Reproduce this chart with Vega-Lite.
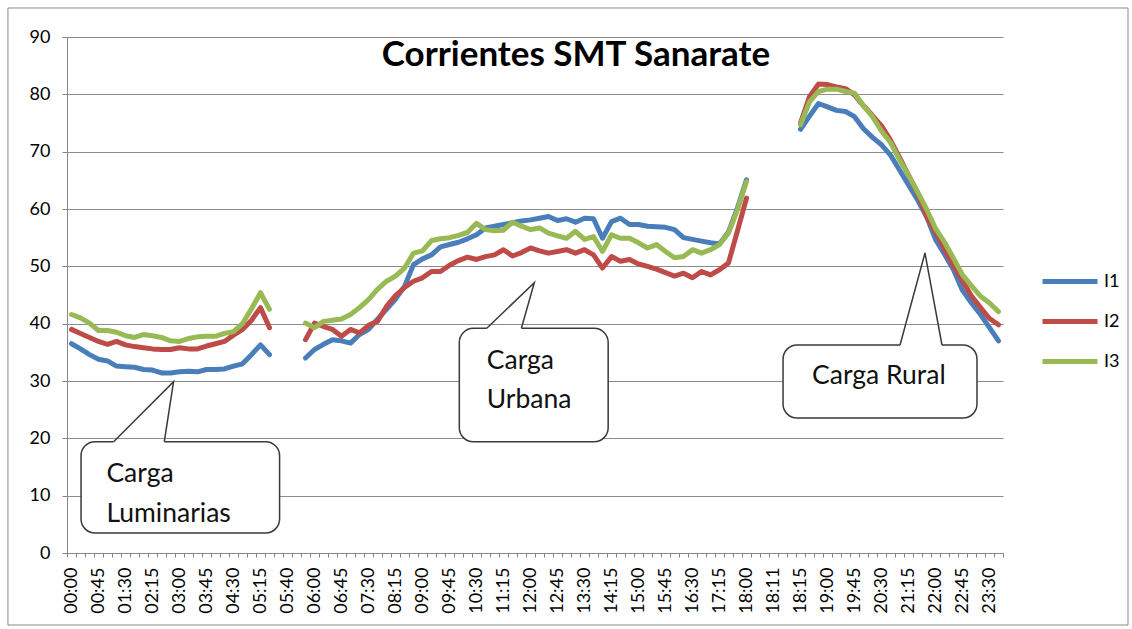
{
  "$schema": "https://vega.github.io/schema/vega-lite/v6.json",
  "width": 936,
  "height": 516,
  "autosize": {"type": "none"},
  "padding": {"left": 67, "top": 37, "right": 129, "bottom": 76},
  "background": "white",
  "title": {"text": "Corrientes SMT Sanarate", "font": "Lato", "fontSize": 35, "fontWeight": "bold", "color": "#000000", "anchor": "middle", "dx": 41, "offset": -66},
  "config": {
    "view": {"stroke": null},
    "axisY": {"domainColor": "#868686", "tickColor": "#868686", "tickSize": 5, "labelFont": "Lato", "labelFontSize": 18, "labelColor": "#000000", "gridColor": "#8c8c8c", "labelPadding": 12, "title": null},
    "axisX": {"domainColor": "#868686", "tickColor": "#868686", "tickSize": 4, "labelFont": "Lato", "labelFontSize": 18, "labelColor": "#000000", "grid": false, "labelPadding": 10, "title": null}
  },
  "datasets": {
    "series": [
      {"t":"00:00","s":"I1","v":36.5},{"t":"00:15","s":"I1","v":35.6},{"t":"00:30","s":"I1","v":34.6},{"t":"00:45","s":"I1","v":33.8},{"t":"01:00","s":"I1","v":33.5},{"t":"01:15","s":"I1","v":32.6},{"t":"01:30","s":"I1","v":32.5},{"t":"01:45","s":"I1","v":32.4},{"t":"02:00","s":"I1","v":32.0},{"t":"02:15","s":"I1","v":31.9},{"t":"02:30","s":"I1","v":31.4},{"t":"02:45","s":"I1","v":31.4},{"t":"03:00","s":"I1","v":31.6},{"t":"03:15","s":"I1","v":31.7},{"t":"03:30","s":"I1","v":31.6},{"t":"03:45","s":"I1","v":32.0},{"t":"04:00","s":"I1","v":32.0},{"t":"04:15","s":"I1","v":32.1},{"t":"04:30","s":"I1","v":32.6},{"t":"04:45","s":"I1","v":33.0},{"t":"05:00","s":"I1","v":34.6},{"t":"05:15","s":"I1","v":36.3},{"t":"05:30","s":"I1","v":34.6},{"t":"05:35","s":"I1","v":null},{"t":"05:40","s":"I1","v":null},{"t":"05:45","s":"I1","v":null},{"t":"05:50","s":"I1","v":34.0},{"t":"06:00","s":"I1","v":35.5},{"t":"06:15","s":"I1","v":36.4},{"t":"06:30","s":"I1","v":37.2},{"t":"06:45","s":"I1","v":37.0},{"t":"07:00","s":"I1","v":36.6},{"t":"07:15","s":"I1","v":38.1},{"t":"07:30","s":"I1","v":39.0},{"t":"07:45","s":"I1","v":40.8},{"t":"08:00","s":"I1","v":42.5},{"t":"08:15","s":"I1","v":44.3},{"t":"08:30","s":"I1","v":46.5},{"t":"08:45","s":"I1","v":50.3},{"t":"09:00","s":"I1","v":51.3},{"t":"09:15","s":"I1","v":52.0},{"t":"09:30","s":"I1","v":53.4},{"t":"09:45","s":"I1","v":53.8},{"t":"10:00","s":"I1","v":54.2},{"t":"10:15","s":"I1","v":54.8},{"t":"10:30","s":"I1","v":55.5},{"t":"10:45","s":"I1","v":56.7},{"t":"11:00","s":"I1","v":57.0},{"t":"11:15","s":"I1","v":57.3},{"t":"11:30","s":"I1","v":57.6},{"t":"11:45","s":"I1","v":57.9},{"t":"12:00","s":"I1","v":58.1},{"t":"12:15","s":"I1","v":58.4},{"t":"12:30","s":"I1","v":58.7},{"t":"12:45","s":"I1","v":58.0},{"t":"13:00","s":"I1","v":58.3},{"t":"13:15","s":"I1","v":57.7},{"t":"13:30","s":"I1","v":58.4},{"t":"13:45","s":"I1","v":58.3},{"t":"14:00","s":"I1","v":54.9},{"t":"14:15","s":"I1","v":57.8},{"t":"14:30","s":"I1","v":58.4},{"t":"14:45","s":"I1","v":57.3},{"t":"15:00","s":"I1","v":57.3},{"t":"15:15","s":"I1","v":57.0},{"t":"15:30","s":"I1","v":56.9},{"t":"15:45","s":"I1","v":56.8},{"t":"16:00","s":"I1","v":56.4},{"t":"16:15","s":"I1","v":55.0},{"t":"16:30","s":"I1","v":54.7},{"t":"16:45","s":"I1","v":54.4},{"t":"17:00","s":"I1","v":54.1},{"t":"17:15","s":"I1","v":53.9},{"t":"17:30","s":"I1","v":56.0},{"t":"17:45","s":"I1","v":60.2},{"t":"18:00","s":"I1","v":65.1},{"t":"18:05","s":"I1","v":null},{"t":"18:10","s":"I1","v":null},{"t":"18:11","s":"I1","v":null},{"t":"18:12","s":"I1","v":null},{"t":"18:13","s":"I1","v":null},{"t":"18:15","s":"I1","v":73.9},{"t":"18:30","s":"I1","v":76.2},{"t":"18:45","s":"I1","v":78.4},{"t":"19:00","s":"I1","v":77.8},{"t":"19:15","s":"I1","v":77.2},{"t":"19:30","s":"I1","v":77.0},{"t":"19:45","s":"I1","v":76.1},{"t":"20:00","s":"I1","v":74.0},{"t":"20:15","s":"I1","v":72.5},{"t":"20:30","s":"I1","v":71.2},{"t":"20:45","s":"I1","v":69.4},{"t":"21:00","s":"I1","v":66.8},{"t":"21:15","s":"I1","v":64.2},{"t":"21:30","s":"I1","v":61.6},{"t":"21:45","s":"I1","v":58.7},{"t":"22:00","s":"I1","v":54.7},{"t":"22:15","s":"I1","v":52.1},{"t":"22:30","s":"I1","v":49.4},{"t":"22:45","s":"I1","v":45.8},{"t":"23:00","s":"I1","v":43.6},{"t":"23:15","s":"I1","v":41.6},{"t":"23:30","s":"I1","v":39.3},{"t":"23:45","s":"I1","v":37.0},
      {"t":"00:00","s":"I2","v":39.0},{"t":"00:15","s":"I2","v":38.3},{"t":"00:30","s":"I2","v":37.6},{"t":"00:45","s":"I2","v":36.9},{"t":"01:00","s":"I2","v":36.4},{"t":"01:15","s":"I2","v":36.9},{"t":"01:30","s":"I2","v":36.3},{"t":"01:45","s":"I2","v":36.0},{"t":"02:00","s":"I2","v":35.8},{"t":"02:15","s":"I2","v":35.6},{"t":"02:30","s":"I2","v":35.5},{"t":"02:45","s":"I2","v":35.5},{"t":"03:00","s":"I2","v":35.8},{"t":"03:15","s":"I2","v":35.6},{"t":"03:30","s":"I2","v":35.6},{"t":"03:45","s":"I2","v":36.1},{"t":"04:00","s":"I2","v":36.5},{"t":"04:15","s":"I2","v":36.9},{"t":"04:30","s":"I2","v":38.0},{"t":"04:45","s":"I2","v":39.0},{"t":"05:00","s":"I2","v":40.6},{"t":"05:15","s":"I2","v":42.8},{"t":"05:30","s":"I2","v":39.3},{"t":"05:35","s":"I2","v":null},{"t":"05:40","s":"I2","v":null},{"t":"05:45","s":"I2","v":null},{"t":"05:50","s":"I2","v":37.2},{"t":"06:00","s":"I2","v":40.1},{"t":"06:15","s":"I2","v":39.5},{"t":"06:30","s":"I2","v":39.0},{"t":"06:45","s":"I2","v":37.8},{"t":"07:00","s":"I2","v":39.0},{"t":"07:15","s":"I2","v":38.4},{"t":"07:30","s":"I2","v":39.7},{"t":"07:45","s":"I2","v":40.4},{"t":"08:00","s":"I2","v":43.0},{"t":"08:15","s":"I2","v":44.9},{"t":"08:30","s":"I2","v":46.3},{"t":"08:45","s":"I2","v":47.4},{"t":"09:00","s":"I2","v":48.0},{"t":"09:15","s":"I2","v":49.1},{"t":"09:30","s":"I2","v":49.1},{"t":"09:45","s":"I2","v":50.2},{"t":"10:00","s":"I2","v":51.0},{"t":"10:15","s":"I2","v":51.6},{"t":"10:30","s":"I2","v":51.2},{"t":"10:45","s":"I2","v":51.7},{"t":"11:00","s":"I2","v":52.0},{"t":"11:15","s":"I2","v":52.9},{"t":"11:30","s":"I2","v":51.8},{"t":"11:45","s":"I2","v":52.4},{"t":"12:00","s":"I2","v":53.2},{"t":"12:15","s":"I2","v":52.7},{"t":"12:30","s":"I2","v":52.3},{"t":"12:45","s":"I2","v":52.6},{"t":"13:00","s":"I2","v":52.9},{"t":"13:15","s":"I2","v":52.3},{"t":"13:30","s":"I2","v":52.9},{"t":"13:45","s":"I2","v":52.0},{"t":"14:00","s":"I2","v":49.7},{"t":"14:15","s":"I2","v":51.7},{"t":"14:30","s":"I2","v":50.9},{"t":"14:45","s":"I2","v":51.2},{"t":"15:00","s":"I2","v":50.4},{"t":"15:15","s":"I2","v":50.0},{"t":"15:30","s":"I2","v":49.5},{"t":"15:45","s":"I2","v":48.9},{"t":"16:00","s":"I2","v":48.3},{"t":"16:15","s":"I2","v":48.8},{"t":"16:30","s":"I2","v":48.0},{"t":"16:45","s":"I2","v":49.1},{"t":"17:00","s":"I2","v":48.5},{"t":"17:15","s":"I2","v":49.4},{"t":"17:30","s":"I2","v":50.6},{"t":"17:45","s":"I2","v":56.2},{"t":"18:00","s":"I2","v":61.9},{"t":"18:05","s":"I2","v":null},{"t":"18:10","s":"I2","v":null},{"t":"18:11","s":"I2","v":null},{"t":"18:12","s":"I2","v":null},{"t":"18:13","s":"I2","v":null},{"t":"18:15","s":"I2","v":75.0},{"t":"18:30","s":"I2","v":79.6},{"t":"18:45","s":"I2","v":81.8},{"t":"19:00","s":"I2","v":81.7},{"t":"19:15","s":"I2","v":81.3},{"t":"19:30","s":"I2","v":81.0},{"t":"19:45","s":"I2","v":79.9},{"t":"20:00","s":"I2","v":78.0},{"t":"20:15","s":"I2","v":76.3},{"t":"20:30","s":"I2","v":74.5},{"t":"20:45","s":"I2","v":72.0},{"t":"21:00","s":"I2","v":69.0},{"t":"21:15","s":"I2","v":65.9},{"t":"21:30","s":"I2","v":62.8},{"t":"21:45","s":"I2","v":58.7},{"t":"22:00","s":"I2","v":56.0},{"t":"22:15","s":"I2","v":53.0},{"t":"22:30","s":"I2","v":50.1},{"t":"22:45","s":"I2","v":47.5},{"t":"23:00","s":"I2","v":44.8},{"t":"23:15","s":"I2","v":42.8},{"t":"23:30","s":"I2","v":40.9},{"t":"23:45","s":"I2","v":39.8},
      {"t":"00:00","s":"I3","v":41.6},{"t":"00:15","s":"I3","v":41.0},{"t":"00:30","s":"I3","v":40.1},{"t":"00:45","s":"I3","v":38.8},{"t":"01:00","s":"I3","v":38.8},{"t":"01:15","s":"I3","v":38.5},{"t":"01:30","s":"I3","v":37.9},{"t":"01:45","s":"I3","v":37.6},{"t":"02:00","s":"I3","v":38.1},{"t":"02:15","s":"I3","v":37.9},{"t":"02:30","s":"I3","v":37.6},{"t":"02:45","s":"I3","v":37.0},{"t":"03:00","s":"I3","v":36.9},{"t":"03:15","s":"I3","v":37.4},{"t":"03:30","s":"I3","v":37.7},{"t":"03:45","s":"I3","v":37.8},{"t":"04:00","s":"I3","v":37.8},{"t":"04:15","s":"I3","v":38.3},{"t":"04:30","s":"I3","v":38.6},{"t":"04:45","s":"I3","v":40.0},{"t":"05:00","s":"I3","v":42.6},{"t":"05:15","s":"I3","v":45.4},{"t":"05:30","s":"I3","v":42.5},{"t":"05:35","s":"I3","v":null},{"t":"05:40","s":"I3","v":null},{"t":"05:45","s":"I3","v":null},{"t":"05:50","s":"I3","v":40.1},{"t":"06:00","s":"I3","v":39.3},{"t":"06:15","s":"I3","v":40.4},{"t":"06:30","s":"I3","v":40.6},{"t":"06:45","s":"I3","v":40.8},{"t":"07:00","s":"I3","v":41.6},{"t":"07:15","s":"I3","v":42.8},{"t":"07:30","s":"I3","v":44.2},{"t":"07:45","s":"I3","v":46.0},{"t":"08:00","s":"I3","v":47.4},{"t":"08:15","s":"I3","v":48.3},{"t":"08:30","s":"I3","v":49.7},{"t":"08:45","s":"I3","v":52.3},{"t":"09:00","s":"I3","v":52.7},{"t":"09:15","s":"I3","v":54.5},{"t":"09:30","s":"I3","v":54.8},{"t":"09:45","s":"I3","v":55.0},{"t":"10:00","s":"I3","v":55.4},{"t":"10:15","s":"I3","v":55.9},{"t":"10:30","s":"I3","v":57.5},{"t":"10:45","s":"I3","v":56.4},{"t":"11:00","s":"I3","v":56.2},{"t":"11:15","s":"I3","v":56.3},{"t":"11:30","s":"I3","v":57.7},{"t":"11:45","s":"I3","v":57.0},{"t":"12:00","s":"I3","v":56.4},{"t":"12:15","s":"I3","v":56.7},{"t":"12:30","s":"I3","v":55.8},{"t":"12:45","s":"I3","v":55.3},{"t":"13:00","s":"I3","v":54.9},{"t":"13:15","s":"I3","v":56.1},{"t":"13:30","s":"I3","v":54.7},{"t":"13:45","s":"I3","v":55.2},{"t":"14:00","s":"I3","v":52.6},{"t":"14:15","s":"I3","v":55.5},{"t":"14:30","s":"I3","v":54.9},{"t":"14:45","s":"I3","v":54.9},{"t":"15:00","s":"I3","v":54.1},{"t":"15:15","s":"I3","v":53.2},{"t":"15:30","s":"I3","v":53.8},{"t":"15:45","s":"I3","v":52.6},{"t":"16:00","s":"I3","v":51.5},{"t":"16:15","s":"I3","v":51.7},{"t":"16:30","s":"I3","v":52.9},{"t":"16:45","s":"I3","v":52.3},{"t":"17:00","s":"I3","v":52.9},{"t":"17:15","s":"I3","v":53.8},{"t":"17:30","s":"I3","v":55.8},{"t":"17:45","s":"I3","v":59.9},{"t":"18:00","s":"I3","v":64.8},{"t":"18:05","s":"I3","v":null},{"t":"18:10","s":"I3","v":null},{"t":"18:11","s":"I3","v":null},{"t":"18:12","s":"I3","v":null},{"t":"18:13","s":"I3","v":null},{"t":"18:15","s":"I3","v":74.7},{"t":"18:30","s":"I3","v":78.7},{"t":"18:45","s":"I3","v":80.5},{"t":"19:00","s":"I3","v":80.9},{"t":"19:15","s":"I3","v":80.9},{"t":"19:30","s":"I3","v":80.5},{"t":"19:45","s":"I3","v":80.2},{"t":"20:00","s":"I3","v":78.0},{"t":"20:15","s":"I3","v":76.1},{"t":"20:30","s":"I3","v":73.6},{"t":"20:45","s":"I3","v":71.6},{"t":"21:00","s":"I3","v":68.6},{"t":"21:15","s":"I3","v":65.9},{"t":"21:30","s":"I3","v":63.0},{"t":"21:45","s":"I3","v":60.0},{"t":"22:00","s":"I3","v":56.6},{"t":"22:15","s":"I3","v":54.2},{"t":"22:30","s":"I3","v":51.4},{"t":"22:45","s":"I3","v":48.5},{"t":"23:00","s":"I3","v":46.6},{"t":"23:15","s":"I3","v":44.8},{"t":"23:30","s":"I3","v":43.6},{"t":"23:45","s":"I3","v":42.1}
    ],
    "border": [{"u": -6.56, "u2": 117.89, "v": 95.06, "v2": -12.56}],
    "callouts": [
      {"id": "lum", "u": 1.56, "u2": 23.62, "v": 19.41, "v2": 3.49},
      {"id": "urb", "u": 43.59, "u2": 60.13, "v": 39.19, "v2": 19.41},
      {"id": "rur", "u": 79.56, "u2": 101.11, "v": 36.28, "v2": 23.55}
    ],
    "covers": [
      {"id": "lum", "u": 5.18, "u2": 10.81, "v": 19.41},
      {"id": "urb", "u": 46.64, "u2": 50.49, "v": 39.19},
      {"id": "rur", "u": 92.56, "u2": 97.22, "v": 36.28}
    ],
    "wedges": [
      {"id": "lum", "k": 1, "u": 5.18, "v": 19.41}, {"id": "lum", "k": 2, "u": 11.84, "v": 29.88}, {"id": "lum", "k": 3, "u": 10.81, "v": 19.41},
      {"id": "urb", "k": 1, "u": 46.64, "v": 39.19}, {"id": "urb", "k": 2, "u": 51.92, "v": 47.15}, {"id": "urb", "k": 3, "u": 50.49, "v": 39.19},
      {"id": "rur", "k": 1, "u": 92.56, "v": 36.28}, {"id": "rur", "k": 2, "u": 95.33, "v": 52.33}, {"id": "rur", "k": 3, "u": 97.22, "v": 36.28}
    ],
    "texts": [
      {"u": 4.38, "v": 12.44, "txt": "Carga"},
      {"u": 4.38, "v": 5.46, "txt": "Luminarias"},
      {"u": 46.64, "v": 32.04, "txt": "Carga"},
      {"u": 46.64, "v": 25.24, "txt": "Urbana"},
      {"u": 82.78, "v": 29.48, "txt": "Carga Rural"}
    ]
  },
  "layer": [
    {
      "data": {"name": "border"},
      "mark": {"type": "rect", "fill": "transparent", "stroke": "#8a8a8a", "strokeWidth": 1, "clip": false},
      "encoding": {
        "x": {"field": "u", "type": "quantitative", "scale": {"domain": [0, 104], "nice": false, "zero": false}, "axis": null},
        "x2": {"field": "u2"},
        "y": {"field": "v", "type": "quantitative", "scale": {"domain": [0, 90], "nice": false}},
        "y2": {"field": "v2"}
      }
    },
    {
      "data": {"name": "series"},
      "mark": {"type": "line", "strokeWidth": 5, "strokeJoin": "round", "strokeCap": "round", "invalid": "break-paths-show-domains"},
      "encoding": {
        "x": {
          "field": "t", "type": "ordinal", "sort": null,
          "scale": {"type": "band", "paddingInner": 0, "paddingOuter": 0},
          "axis": {"tickBand": "extent", "labelAngle": 270, "labelExpr": "indexof(['00:00','00:45','01:30','02:15','03:00','03:45','04:30','05:15','05:40','06:00','06:45','07:30','08:15','09:00','09:45','10:30','11:15','12:00','12:45','13:30','14:15','15:00','15:45','16:30','17:15','18:00','18:11','18:15','19:00','19:45','20:30','21:15','22:00','22:45','23:30'], datum.value) >= 0 ? datum.value : ''", "labelOverlap": false}
        },
        "y": {"field": "v", "type": "quantitative", "scale": {"domain": [0, 90], "nice": false}, "axis": {"values": [0, 10, 20, 30, 40, 50, 60, 70, 80, 90]}},
        "color": {
          "field": "s", "type": "nominal",
          "scale": {"domain": ["I1", "I2", "I3"], "range": ["#4A7EBB", "#BE4B48", "#98B954"]},
          "legend": {"orient": "none", "legendX": 973, "legendY": 214.5, "title": null, "symbolType": "stroke", "symbolSize": 3025, "symbolStrokeWidth": 5, "labelFont": "Lato", "labelFontSize": 18, "labelColor": "#000000", "rowPadding": -13.5, "padding": 0, "labelOffset": 4}
        }
      }
    },
    {
      "data": {"name": "callouts"},
      "mark": {"type": "rect", "fill": "white", "stroke": "#3a3a3a", "strokeWidth": 1.5, "cornerRadius": 14, "clip": false},
      "encoding": {
        "x": {"field": "u", "type": "quantitative", "scale": {"domain": [0, 104], "nice": false, "zero": false}, "axis": null},
        "x2": {"field": "u2"},
        "y": {"field": "v", "type": "quantitative", "scale": {"domain": [0, 90], "nice": false}},
        "y2": {"field": "v2"}
      }
    },
    {
      "data": {"name": "covers"},
      "mark": {"type": "rule", "stroke": "white", "strokeWidth": 3},
      "encoding": {
        "x": {"field": "u", "type": "quantitative", "scale": {"domain": [0, 104], "nice": false, "zero": false}, "axis": null},
        "x2": {"field": "u2"},
        "y": {"field": "v", "type": "quantitative", "scale": {"domain": [0, 90], "nice": false}}
      }
    },
    {
      "data": {"name": "wedges"},
      "mark": {"type": "line", "stroke": "#3a3a3a", "strokeWidth": 1.5, "strokeJoin": "miter"},
      "encoding": {
        "x": {"field": "u", "type": "quantitative", "scale": {"domain": [0, 104], "nice": false, "zero": false}, "axis": null},
        "y": {"field": "v", "type": "quantitative", "scale": {"domain": [0, 90], "nice": false}},
        "detail": {"field": "id"},
        "order": {"field": "k", "type": "quantitative"}
      }
    },
    {
      "data": {"name": "texts"},
      "mark": {"type": "text", "font": "Lato", "fontSize": 26.5, "color": "#111111", "align": "left", "baseline": "alphabetic"},
      "encoding": {
        "x": {"field": "u", "type": "quantitative", "scale": {"domain": [0, 104], "nice": false, "zero": false}, "axis": null},
        "y": {"field": "v", "type": "quantitative", "scale": {"domain": [0, 90], "nice": false}},
        "text": {"field": "txt"}
      }
    }
  ],
  "resolve": {"scale": {"x": "independent"}}
}
